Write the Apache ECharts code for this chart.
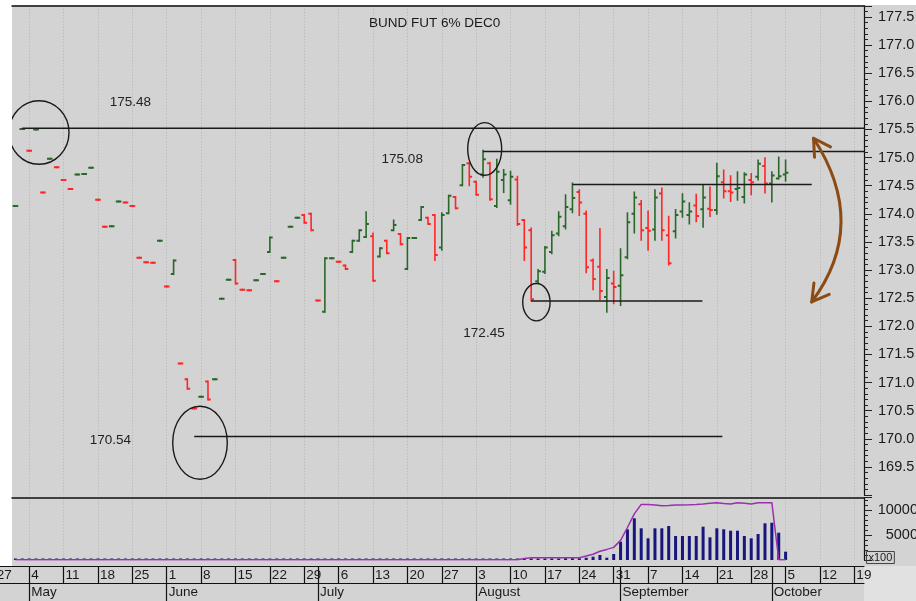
<!DOCTYPE html>
<html>
<head>
<meta charset="utf-8">
<script src="https://cdn.jsdelivr.net/npm/echarts@6/dist/echarts.min.js"></script>
<style>
  html, body { margin: 0; padding: 0; background: #fff; }
  #chart { width: 916px; height: 601px; }
</style>
</head>
<body>
<div id="chart"></div>
<script>
// day index: 0 = Monday 4 May, five trading days per week
const firstDay = -2;

// [open, high, low, close] for each trading day from firstDay
const ohlc = [
  [174.14, 174.14, 174.14, 174.14], [175.51, 175.51, 175.51, 175.51],
  [175.12, 175.12, 175.12, 175.12], [175.50, 175.50, 175.50, 175.50],
  [174.38, 174.38, 174.38, 174.38], [174.98, 174.98, 174.98, 174.98],
  [174.83, 174.83, 174.83, 174.83], [174.60, 174.60, 174.60, 174.60],
  [174.44, 174.44, 174.44, 174.44], [174.70, 174.70, 174.70, 174.70],
  [174.71, 174.71, 174.71, 174.71], [174.82, 174.82, 174.82, 174.82],
  [174.25, 174.25, 174.25, 174.25], [173.77, 173.77, 173.77, 173.77],
  [173.78, 173.78, 173.78, 173.78], [174.22, 174.22, 174.22, 174.22],
  [174.20, 174.20, 174.20, 174.20], [174.14, 174.14, 174.14, 174.14],
  [173.22, 173.22, 173.22, 173.22], [173.14, 173.14, 173.14, 173.14],
  [173.13, 173.13, 173.13, 173.13], [173.52, 173.52, 173.52, 173.52],
  [172.71, 172.71, 172.71, 172.71], [172.93, 173.17, 172.93, 173.17],
  [171.34, 171.34, 171.34, 171.34], [171.06, 171.06, 170.89, 170.89],
  [170.54, 170.54, 170.54, 170.54], [170.75, 170.75, 170.75, 170.75],
  [171.02, 171.02, 170.70, 170.70], [171.06, 171.06, 171.06, 171.06],
  [172.49, 172.49, 172.49, 172.49], [172.83, 172.83, 172.83, 172.83],
  [173.18, 173.18, 172.76, 172.76], [172.65, 172.65, 172.65, 172.65],
  [172.64, 172.64, 172.64, 172.64], [172.82, 172.82, 172.82, 172.82],
  [172.93, 172.93, 172.93, 172.93], [173.32, 173.58, 173.32, 173.58],
  [172.80, 172.80, 172.80, 172.80], [173.22, 173.22, 173.22, 173.22],
  [173.77, 173.77, 173.77, 173.77], [173.93, 173.93, 173.93, 173.93],
  [173.98, 173.98, 173.84, 173.84], [174.00, 174.00, 173.71, 173.71],
  [172.46, 172.46, 172.46, 172.46], [172.26, 173.21, 172.26, 173.21],
  [173.21, 173.21, 173.21, 173.21], [173.15, 173.15, 173.15, 173.15],
  [173.08, 173.08, 173.02, 173.02], [173.32, 173.52, 173.32, 173.52],
  [173.52, 173.71, 173.52, 173.71], [173.59, 174.03, 173.59, 173.82],
  [173.60, 173.65, 172.81, 172.81], [173.24, 173.39, 173.24, 173.39],
  [173.52, 173.52, 173.30, 173.30], [173.71, 173.88, 173.71, 173.80],
  [173.64, 173.64, 173.46, 173.46], [173.02, 173.57, 173.02, 173.57],
  [173.57, 173.57, 173.57, 173.57], [173.89, 174.12, 173.89, 174.12],
  [173.93, 173.93, 173.82, 173.82], [173.98, 173.98, 173.18, 173.27],
  [173.40, 174.01, 173.36, 173.98], [174.01, 174.32, 174.01, 174.32],
  [174.30, 174.30, 174.10, 174.10], [174.51, 174.87, 174.51, 174.87],
  [174.90, 174.90, 174.51, 174.66], [174.57, 174.57, 174.34, 174.34],
  [174.70, 175.12, 174.66, 174.97], [174.90, 174.91, 174.25, 174.26],
  [174.14, 174.96, 174.12, 174.75], [174.60, 174.78, 174.39, 174.70],
  [174.24, 174.75, 174.18, 174.66], [174.61, 174.66, 173.80, 173.82],
  [173.89, 173.89, 173.18, 173.40], [173.71, 173.74, 172.46, 172.48],
  [172.80, 173.00, 172.77, 172.98], [172.97, 173.41, 172.95, 173.40],
  [173.32, 173.68, 173.30, 173.62], [173.65, 174.03, 173.62, 173.95],
  [173.78, 174.33, 173.74, 174.12], [174.08, 174.54, 174.03, 174.28],
  [174.39, 174.42, 173.98, 174.20], [174.00, 174.04, 172.96, 173.05],
  [173.17, 173.19, 172.66, 172.84], [173.06, 173.73, 172.48, 172.63],
  [172.52, 173.00, 172.26, 172.86], [172.76, 172.97, 172.41, 172.70],
  [172.72, 173.37, 172.38, 172.91], [173.23, 174.01, 173.21, 173.85],
  [174.00, 174.38, 173.67, 174.29], [174.17, 174.23, 173.54, 173.71],
  [173.75, 174.04, 173.36, 173.70], [173.72, 174.42, 173.54, 174.29],
  [174.36, 174.45, 173.54, 173.71], [173.62, 173.95, 173.10, 173.12],
  [173.69, 174.07, 173.58, 173.98], [174.04, 174.35, 173.95, 174.22],
  [173.98, 174.19, 173.83, 174.04], [174.15, 174.34, 173.87, 173.96],
  [174.08, 174.50, 173.77, 174.29], [174.09, 174.47, 173.96, 174.07],
  [174.07, 174.89, 174.00, 174.67], [174.56, 174.77, 174.29, 174.40],
  [174.40, 174.67, 174.23, 174.38], [174.44, 174.74, 174.25, 174.46],
  [174.30, 174.72, 174.20, 174.70], [174.60, 174.71, 174.35, 174.56],
  [174.66, 174.95, 174.61, 174.89], [174.85, 174.99, 174.38, 174.54],
  [174.54, 174.74, 174.22, 174.68], [174.63, 175.00, 174.63, 174.67],
  [174.70, 174.95, 174.59, 174.73]
];

// volume (x100), same days
const volume = [
  300, 300, 300, 300, 300, 300, 300, 300, 300, 300,
  300, 300, 300, 300, 300, 300, 300, 300, 300, 300,
  300, 300, 300, 300, 300, 300, 300, 300, 300, 300,
  300, 300, 300, 300, 300, 300, 300, 300, 300, 300,
  300, 300, 300, 300, 300, 300, 300, 300, 300, 300,
  300, 300, 300, 300, 300, 300, 300, 300, 300, 300,
  300, 300, 300, 300, 300, 300, 300, 300, 300, 300,
  300, 300, 300, 300, 300, 300, 300, 300, 300, 300,
  350, 350, 350,
  460, 660, 1000, 460, 1200, 3660, 6140, 8340, 6340, 4340,
  6340, 6340, 6800, 4800, 4800, 4800, 4800, 6660, 4540, 6340,
  6140, 5860, 5860, 4800, 4340, 5200, 7340, 7460, 5460, 1660
];

// open interest (x100), same days
const openInt = [
  50, 50, 50, 50, 50, 50, 50, 50, 50, 50,
  50, 50, 50, 50, 50, 50, 50, 50, 50, 50,
  50, 50, 50, 50, 50, 50, 50, 50, 50, 50,
  50, 50, 50, 50, 50, 50, 50, 50, 50, 50,
  50, 50, 50, 50, 50, 50, 50, 50, 50, 50,
  50, 50, 50, 50, 50, 50, 50, 50, 50, 50,
  50, 50, 50, 50, 50, 50, 50, 50, 50, 50,
  50, 50, 50, 50,
  300, 460, 460, 460, 460, 460, 460, 460, 460,
  800, 1160, 1760, 2120, 2520, 3920, 6500, 9220, 11120, 11100,
  11000, 10840, 10900, 11000, 11000, 11040, 11100, 11200, 11340, 11460,
  11300, 11200, 11460, 11340, 11200, 11460, 11460, 11460, 50, 50
];

const weekTicks = [-5, 0, 5, 10, 15, 20, 25, 30, 35, 40, 45, 50, 55, 60, 65,
  70, 75, 80, 85, 90, 95, 100, 105, 110, 115, 120];
const weekLabels = ['27', '4', '11', '18', '25', '1', '8', '15', '22', '29', '6', '13',
  '20', '27', '3', '10', '17', '24', '31', '7', '14', '21', '28', '5', '12', '19'];
const monthStarts = [0, 20, 42, 65, 86, 108];
const monthNames = ['May', 'June', 'July', 'August', 'September', 'October'];

// drawn annotations, in day / price units
const levelLines = [[-1, 121.4, 175.52], [66, 121.4, 175.11], [79, 113.8, 174.52],
  [73, 97.9, 172.45], [24, 100.8, 170.04]];
const circles = [[1.43, 175.446, 4.36, 0.564], [66.24, 175.154, 2.47, 0.468],
  [73.76, 172.429, 1.99, 0.332], [24.84, 169.931, 3.97, 0.649]];
const noteLabels = ['175.48', '175.08', '172.45', '170.54'];
const notePos = [[14.73, 175.976], [54.25, 174.968], [66.14, 171.869], [11.8, 169.981]];
const arrowPath = [[114.06, 175.344], [122.19, 173.812], [113.8, 172.434]];

const FONT = '"Liberation Sans", Arial, sans-serif';
const UP = '#2a682a';
const DOWN = '#ff2626';
const INK = '#1a1a1a';

const chart = echarts.init(document.getElementById('chart'));

function drawBar(params, api) {
  const k = params.dataIndex;
  const day = api.value(0);
  const o = api.value(1), h = api.value(2), l = api.value(3), c = api.value(4);
  const prev = k > 0 ? ohlc[k - 1][3] : c;
  const up = c > o || (c === o && c >= prev);
  const color = up ? UP : DOWN;
  const hi = api.coord([day, h]);
  const lo = api.coord([day, l]);
  const op = api.coord([day, o]);
  const cl = api.coord([day, c]);
  const x = hi[0];
  return {
    type: 'group',
    children: [
      { type: 'line', shape: { x1: x, y1: hi[1] - 1, x2: x, y2: lo[1] + 1 },
        style: { stroke: color, lineWidth: 1.6 } },
      { type: 'line', shape: { x1: x - 2.8, y1: op[1], x2: x, y2: op[1] },
        style: { stroke: color, lineWidth: 2 } },
      { type: 'line', shape: { x1: x, y1: cl[1], x2: x + 2.8, y2: cl[1] },
        style: { stroke: color, lineWidth: 2 } }
    ]
  };
}

function drawLevel(params, api) {
  const a = api.coord([api.value(0), api.value(2)]);
  const b = api.coord([api.value(1), api.value(2)]);
  return { type: 'line', shape: { x1: a[0], y1: a[1], x2: b[0], y2: b[1] },
    style: { stroke: INK, lineWidth: 1.5 } };
}

function drawCircle(params, api) {
  const c = api.coord([api.value(0), api.value(1)]);
  const s = api.size([api.value(2), api.value(3)]);
  return { type: 'ellipse', shape: { cx: c[0], cy: c[1], rx: s[0], ry: s[1] },
    style: { fill: 'none', stroke: INK, lineWidth: 1.4 } };
}

function drawNote(params, api) {
  const p = api.coord([api.value(0), api.value(1)]);
  return { type: 'text', x: p[0], y: p[1],
    style: { text: noteLabels[params.dataIndex], fill: '#222', fontSize: 13.5,
      fontFamily: FONT, align: 'center', verticalAlign: 'middle' } };
}

function drawArrow(params, api) {
  const p0 = api.coord([api.value(0), api.value(1)]);
  const cp = api.coord([api.value(2), api.value(3)]);
  const p2 = api.coord([api.value(4), api.value(5)]);
  const head = (tip) => {
    const a = Math.atan2(cp[1] - tip[1], cp[0] - tip[0]);
    const len = 19, spread = Math.PI / 6;
    return [
      [tip[0] + len * Math.cos(a + spread), tip[1] + len * Math.sin(a + spread)],
      tip,
      [tip[0] + len * Math.cos(a - spread), tip[1] + len * Math.sin(a - spread)]
    ];
  };
  const st = { fill: 'none', stroke: '#8c4a14', lineWidth: 3, lineCap: 'round', lineJoin: 'round' };
  return {
    type: 'group',
    children: [
      { type: 'bezierCurve', shape: { x1: p0[0], y1: p0[1], cpx1: cp[0], cpy1: cp[1], x2: p2[0], y2: p2[1] }, style: st },
      { type: 'polyline', shape: { points: head(p0) }, style: st },
      { type: 'polyline', shape: { points: head(p2) }, style: st }
    ]
  };
}

const dotted = { show: true, lineStyle: { color: '#b2b2b2', width: 1, type: [1, 2] } };
const blackLine = (w) => ({ show: true, onZero: false, lineStyle: { color: '#111', width: w } });

const option = {
  animation: false,
  backgroundColor: '#d3d3d3',
  textStyle: { fontFamily: FONT },
  title: {
    text: 'BUND FUT 6% DEC0',
    left: 364, top: 11,
    textStyle: { fontSize: 13.5, fontWeight: 'normal', color: INK, fontFamily: FONT }
  },
  graphic: [
    { type: 'rect', z: -10, shape: { x: 0, y: 0, width: 916, height: 5 }, style: { fill: '#ffffff' } },
    { type: 'rect', z: -10, shape: { x: 0, y: 0, width: 12, height: 566 }, style: { fill: '#ffffff' } },
    { type: 'rect', z: -10, shape: { x: 864, y: 566, width: 52, height: 35 }, style: { fill: '#e1e1e1' } },
    { type: 'text', z: 10, left: 866, top: 551,
      style: { text: 'x100', fill: '#222', fontSize: 11, fontFamily: FONT,
        padding: [1, 2, 0, 2], borderColor: '#444', borderWidth: 1 } }
  ],
  grid: [
    { left: 12, right: 52, top: 5.75, height: 489.35, outerBoundsMode: 'none' },
    { left: 12, right: 52, top: 497.5, height: 62.5, outerBoundsMode: 'none' },
    { left: -10, right: 52, top: 566, height: 17, outerBoundsMode: 'none' },
    { left: -10, right: 52, top: 583, height: 18, outerBoundsMode: 'none' }
  ],
  xAxis: [
    { gridIndex: 0, type: 'value', min: -2.5, max: 121.4, position: 'top',
      axisLine: blackLine(1.5),
      axisTick: { show: false, customValues: weekTicks },
      axisLabel: { show: false }, splitLine: dotted },
    { gridIndex: 1, type: 'value', min: -2.5, max: 121.4, position: 'top',
      axisLine: blackLine(1.5),
      axisTick: { show: false, customValues: weekTicks },
      axisLabel: { show: false }, splitLine: dotted },
    { gridIndex: 2, type: 'value', min: -5.7, max: 121.4, position: 'top',
      axisLine: blackLine(1.2),
      axisTick: { show: true, inside: true, length: 17, customValues: weekTicks.concat([42, 86, 108]),
        lineStyle: { color: '#111', width: 1.2 } },
      axisLabel: { show: true, inside: true, margin: 2, customValues: weekTicks, align: 'left',
        padding: [0, 0, 0, 2], fontSize: 13.5, color: INK, fontFamily: FONT,
        formatter: (v) => { const k = weekTicks.indexOf(Math.round(v)); return k >= 0 ? weekLabels[k] : ''; } },
      splitLine: { show: false } },
    { gridIndex: 3, type: 'value', min: -5.7, max: 121.4, position: 'top',
      axisLine: blackLine(1.2),
      axisTick: { show: true, inside: true, length: 18, customValues: monthStarts,
        lineStyle: { color: '#111', width: 1.2 } },
      axisLabel: { show: true, inside: true, margin: 2, customValues: monthStarts, align: 'left',
        padding: [0, 0, 0, 2], fontSize: 13.5, color: INK, fontFamily: FONT,
        formatter: (v) => { const k = monthStarts.indexOf(Math.round(v)); return k >= 0 ? monthNames[k] : ''; } },
      splitLine: { show: false } }
  ],
  yAxis: [
    { gridIndex: 0, type: 'value', position: 'right', min: 169, max: 177.7, interval: 0.5,
      axisLine: blackLine(1.2),
      axisTick: { show: true, length: 8, lineStyle: { color: '#222' } },
      minorTick: { show: true, splitNumber: 5, length: 4, lineStyle: { color: '#222' } },
      axisLabel: { margin: 14, fontSize: 14.5, color: INK, fontFamily: FONT,
        formatter: (v) => (v >= 169.4 && Math.abs(v * 2 - Math.round(v * 2)) < 1e-6) ? v.toFixed(1) : '' },
      splitLine: { show: false } },
    { gridIndex: 1, type: 'value', position: 'right', min: 0, max: 12500, interval: 5000,
      axisLine: blackLine(1.2),
      axisTick: { show: true, length: 8, lineStyle: { color: '#222' } },
      minorTick: { show: true, splitNumber: 5, length: 4, lineStyle: { color: '#222' } },
      axisLabel: { margin: 54, align: 'right', fontSize: 14.5, color: INK, fontFamily: FONT,
        formatter: (v) => (v === 5000 || v === 10000) ? String(v) : '' },
      splitLine: { show: false } },
    { gridIndex: 2, type: 'value', show: false, min: 0, max: 1 },
    { gridIndex: 3, type: 'value', show: false, min: 0, max: 1 }
  ],
  series: [
    { type: 'bar', name: 'Volume', xAxisIndex: 1, yAxisIndex: 1, barWidth: 3,
      itemStyle: { color: '#16167c' },
      data: volume.map((v, k) => [k + firstDay, v]) },
    { type: 'line', name: 'Open interest', xAxisIndex: 1, yAxisIndex: 1, z: 3,
      showSymbol: false, symbol: 'none', lineStyle: { color: '#9b2fae', width: 1.5 },
      data: openInt.map((v, k) => [k + firstDay, v]) },
    { type: 'custom', name: 'Price', xAxisIndex: 0, yAxisIndex: 0, clip: true,
      renderItem: drawBar, encode: { x: 0, y: [1, 2, 3, 4] },
      data: ohlc.map((r, k) => [k + firstDay].concat(r)) },
    { type: 'custom', xAxisIndex: 0, yAxisIndex: 0, clip: true, z: 4,
      renderItem: drawLevel, encode: { x: [0, 1], y: 2 }, data: levelLines },
    { type: 'custom', xAxisIndex: 0, yAxisIndex: 0, clip: true, z: 4,
      renderItem: drawCircle, encode: { x: 0, y: 1 }, data: circles },
    { type: 'custom', xAxisIndex: 0, yAxisIndex: 0, z: 4,
      renderItem: drawNote, encode: { x: 0, y: 1 }, data: notePos },
    { type: 'custom', xAxisIndex: 0, yAxisIndex: 0, z: 5,
      renderItem: drawArrow, encode: { x: [0, 2, 4], y: [1, 3, 5] },
      data: [arrowPath[0].concat(arrowPath[1], arrowPath[2])] }
  ]
};

chart.setOption(option);
</script>
</body>
</html>
